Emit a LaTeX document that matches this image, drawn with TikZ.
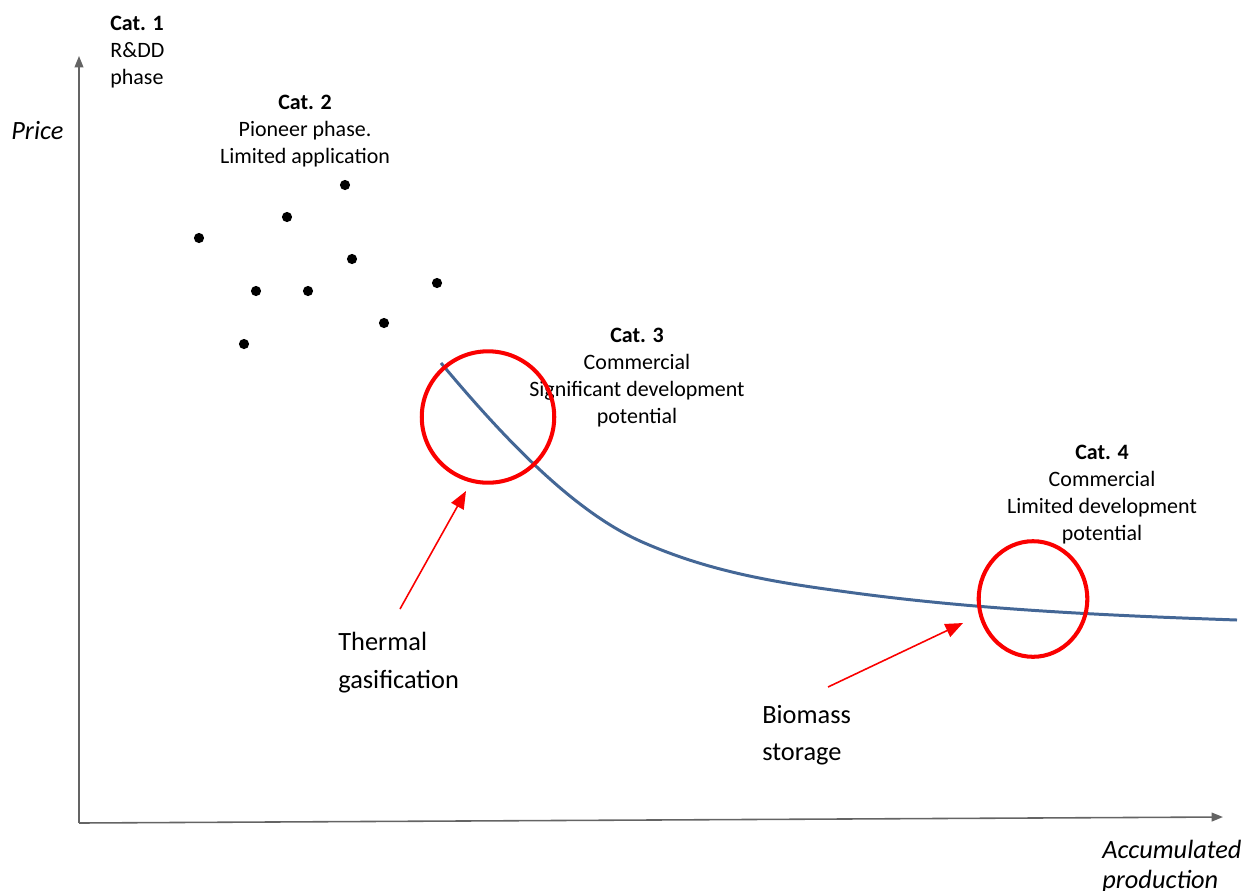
\documentclass[tikz,border=0pt]{standalone}
\usepackage{fontspec}
\setmainfont{Carlito}
\usetikzlibrary{arrows.meta}
\usetikzlibrary{shapes.geometric}

\begin{document}
\begin{tikzpicture}[x=0.02cm,y=-0.02cm,
    axis/.style={draw=axisgray, line width=0.9pt, -{Triangle[length=6.5pt,width=5pt]}},
    dot/.style={circle, fill=black, inner sep=0pt, minimum size=5.8pt},
    ring/.style={ellipse, draw=ringred, line width=2.3pt, inner sep=0pt},
    pointer/.style={draw=ringred, line width=0.9pt, -{Triangle[length=10pt,width=8pt]}},
    cat/.style={inner sep=0pt, align=center, font=\fontsize{12.5}{15.3}\selectfont},
    tech/.style={inner sep=0pt, align=left, font=\fontsize{15}{21.3}\selectfont},
    axistitle/.style={inner sep=0pt, align=left, font=\fontsize{15}{17.2}\selectfont\itshape}]
            \definecolor{axisgray}{RGB}{100,100,100}
            \definecolor{ringred}{RGB}{250,0,0}
            \definecolor{curveblue}{RGB}{68,103,150}
            \clip (0,0) rectangle (1244,890);

            % axes
            \coordinate (origin) at (79,823);
            \coordinate (ytop) at (79,56);
            \coordinate (xend) at (1223,817);
            \draw[axis] (origin) -- (ytop);
            \draw[axis] (origin) -- (xend);
            \node[axistitle, anchor=north west] (price) at (11,121) {Price};
            \node[axistitle, anchor=north west] (accprod) at (1102,840) {Accumulated\\production};

            % categories
            \node[cat, anchor=north west, align=left] (catone) at (110,16) {\textbf{Cat. 1}\\R\&DD\\phase};
            \node[cat, anchor=north] (cattwo) at (305,95) {\textbf{Cat. 2}\\Pioneer phase.\\Limited application};
            \node[cat, anchor=north] (catthree) at (637,328) {\textbf{Cat. 3}\\Commercial\\Significant development\\potential};
            \node[cat, anchor=north] (catfour) at (1102,445) {\textbf{Cat. 4}\\Commercial\\Limited development\\potential};

            % pioneer technologies
            \foreach \px/\py [count=\i] in {199/238, 287/217, 345/185, 352/259, 256/291, 308/291, 437/283, 384/323, 244/344}
                \node[dot] (dot\i) at (\px,\py) {};

            % learning curve
            \draw[curveblue, line width=1.7pt] (441,363) .. controls (507,442) and (574,511) .. (640,541)
                .. controls (707,571) and (773,582) .. (840,591)
                .. controls (972,609.5) and (1105,615.4) .. (1237,620);

            \node[ring, minimum width=75.4pt, minimum height=74.8pt] (gasring) at (488,417) {};
            \node[ring, minimum width=61.8pt, minimum height=65.8pt] (storering) at (1033,599) {};

            \node[tech, anchor=north west] (gasif) at (338,632) {Thermal\\gasification};
            \node[tech, anchor=north west] (biostore) at (762,705) {Biomass\\storage};
            \coordinate (gastail) at (400,609);
            \coordinate (gastip) at (466,491);
            \coordinate (storetail) at (828,687);
            \coordinate (storetip) at (963,623);
            \draw[pointer] (gastail) -- (gastip);
            \draw[pointer] (storetail) -- (storetip);
        \end{tikzpicture}
\end{document}
